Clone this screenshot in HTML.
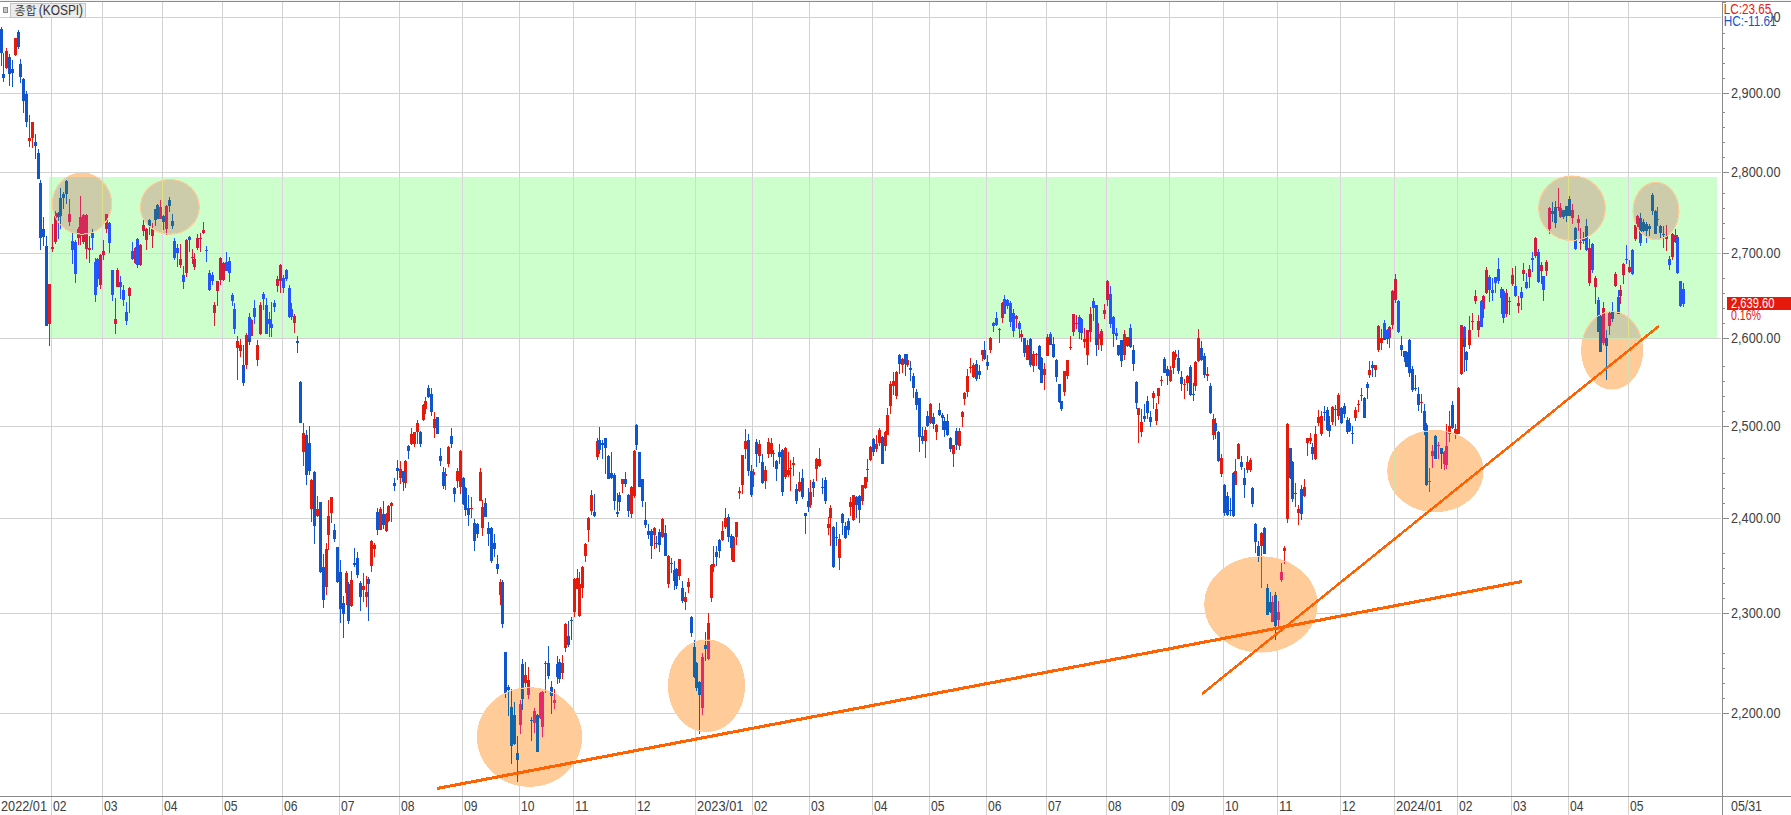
<!DOCTYPE html><html><head><meta charset="utf-8"><title>KOSPI</title><style>html,body{margin:0;padding:0;background:#fff}body{width:1791px;height:815px;overflow:hidden}svg{display:block}text{font-family:"Liberation Sans","NanumGothic","Noto Sans CJK KR",sans-serif}</style></head><body>
<svg width="1791" height="815" viewBox="0 0 1791 815">
<rect width="1791" height="815" fill="#fff"/>
<defs><clipPath id="cb"><rect x="49" y="177" width="1668" height="161"/></clipPath>
<clipPath id="c0"><ellipse cx="82.0" cy="203.7" rx="30.0" ry="31.0"/></clipPath>
<clipPath id="c1"><ellipse cx="169.9" cy="206.9" rx="29.8" ry="27.7"/></clipPath>
<clipPath id="c2"><ellipse cx="529.5" cy="737.0" rx="52.5" ry="49.7"/></clipPath>
<clipPath id="c3"><ellipse cx="706.5" cy="685.7" rx="38.5" ry="46.2"/></clipPath>
<clipPath id="c4"><ellipse cx="1260.9" cy="604.4" rx="56.5" ry="48.0"/></clipPath>
<clipPath id="c5"><ellipse cx="1435.4" cy="471.0" rx="48.0" ry="41.0"/></clipPath>
<clipPath id="c6"><ellipse cx="1572.0" cy="208.2" rx="33.7" ry="32.7"/></clipPath>
<clipPath id="c7"><ellipse cx="1656.0" cy="211.0" rx="23.3" ry="29.0"/></clipPath>
<clipPath id="c8"><ellipse cx="1612.1" cy="350.3" rx="30.9" ry="39.1"/></clipPath>
<clipPath id="plot"><rect x="0" y="2" width="1722" height="794"/></clipPath>
</defs>
<g shape-rendering="crispEdges">
<path d="M51 2h1V815h-1zM102 2h1V815h-1zM162 2h1V815h-1zM222 2h1V815h-1zM282 2h1V815h-1zM339 2h1V815h-1zM399 2h1V815h-1zM462 2h1V815h-1zM519 2h1V815h-1zM573 2h1V815h-1zM635 2h1V815h-1zM695 2h1V815h-1zM752 2h1V815h-1zM809 2h1V815h-1zM872 2h1V815h-1zM929 2h1V815h-1zM986 2h1V815h-1zM1046 2h1V815h-1zM1106 2h1V815h-1zM1169 2h1V815h-1zM1223 2h1V815h-1zM1277 2h1V815h-1zM1340 2h1V815h-1zM1394 2h1V815h-1zM1457 2h1V815h-1zM1511 2h1V815h-1zM1568 2h1V815h-1zM1628 2h1V815h-1zM0 17H1721v1H0zM0 93H1721v1H0zM0 172H1721v1H0zM0 253H1721v1H0zM0 338H1721v1H0zM0 426H1721v1H0zM0 518H1721v1H0zM0 613H1721v1H0zM0 713H1721v1H0z" fill="#d2d2d2"/>
<g clip-path="url(#plot)">
<path d="M6 48h1v21h-1zM5 51h3v17h-3zM15 38h1v18h-1zM14 38h3v17h-3zM29 115h1v32h-1zM28 138h3v3h-3zM32 122h1v26h-1zM31 122h3v16h-3zM49 284h1v62h-1zM48 284h3v40h-3zM52 224h1v28h-1zM51 247h3v2h-3zM55 211h1v33h-1zM54 213h3v29h-3zM69 199h1v27h-1zM68 214h3v8h-3zM78 227h1v18h-1zM77 229h3v9h-3zM80 196h1v49h-1zM79 217h3v19h-3zM83 214h1v30h-1zM82 215h3v27h-3zM86 214h1v45h-1zM85 215h3v34h-3zM89 236h1v27h-1zM88 248h3v2h-3zM100 254h1v35h-1zM99 255h3v30h-3zM103 240h1v20h-1zM102 251h3v4h-3zM106 214h1v19h-1zM105 214h3v15h-3zM115 298h1v36h-1zM114 319h3v5h-3zM117 268h1v19h-1zM116 270h3v17h-3zM129 287h1v26h-1zM128 288h3v8h-3zM135 247h1v17h-1zM134 248h3v15h-3zM140 244h1v22h-1zM139 245h3v20h-3zM143 220h1v16h-1zM142 225h3v6h-3zM146 228h1v22h-1zM145 229h3v11h-3zM152 223h1v25h-1zM151 229h3v7h-3zM160 200h1v19h-1zM159 207h3v12h-3zM166 205h1v30h-1zM165 206h3v23h-3zM180 244h1v24h-1zM179 259h3v6h-3zM186 239h1v38h-1zM185 240h3v33h-3zM192 249h1v15h-1zM191 257h3v1h-3zM194 253h1v17h-1zM193 259h3v8h-3zM197 234h1v16h-1zM196 238h3v10h-3zM200 233h1v19h-1zM199 238h3v1h-3zM203 222h1v12h-1zM202 230h3v3h-3zM214 302h1v24h-1zM213 305h3v8h-3zM217 281h1v25h-1zM216 281h3v10h-3zM220 257h1v28h-1zM219 258h3v22h-3zM223 262h1v19h-1zM222 263h3v17h-3zM237 336h1v44h-1zM236 341h3v7h-3zM240 339h1v18h-1zM239 345h3v6h-3zM246 333h1v36h-1zM245 335h3v30h-3zM251 319h1v17h-1zM250 320h3v16h-3zM257 340h1v26h-1zM256 345h3v15h-3zM260 302h1v33h-1zM259 305h3v29h-3zM277 276h1v16h-1zM276 279h3v7h-3zM280 264h1v29h-1zM279 265h3v16h-3zM294 314h1v19h-1zM293 316h3v7h-3zM303 423h1v43h-1zM302 433h3v19h-3zM311 479h1v43h-1zM310 480h3v29h-3zM317 496h1v21h-1zM316 509h3v7h-3zM326 543h1v52h-1zM325 549h3v38h-3zM328 500h1v50h-1zM327 516h3v19h-3zM331 497h1v26h-1zM330 497h3v16h-3zM346 571h1v34h-1zM345 573h3v20h-3zM351 571h1v36h-1zM350 580h3v26h-3zM363 573h1v29h-1zM362 586h3v4h-3zM366 576h1v31h-1zM365 592h3v5h-3zM371 540h1v32h-1zM370 541h3v25h-3zM374 543h1v14h-1zM373 545h3v4h-3zM380 507h1v23h-1zM379 509h3v21h-3zM386 513h1v19h-1zM385 514h3v17h-3zM388 505h1v17h-1zM387 506h3v15h-3zM391 502h1v20h-1zM390 503h3v3h-3zM400 461h1v23h-1zM399 469h3v9h-3zM405 460h1v28h-1zM404 461h3v22h-3zM411 428h1v17h-1zM410 434h3v10h-3zM414 432h1v15h-1zM413 432h3v12h-3zM417 420h1v24h-1zM416 423h3v9h-3zM423 404h1v17h-1zM422 405h3v15h-3zM425 397h1v17h-1zM424 401h3v8h-3zM434 412h1v26h-1zM433 419h3v9h-3zM445 468h1v22h-1zM444 474h3v2h-3zM448 446h1v21h-1zM447 447h3v17h-3zM457 468h1v20h-1zM456 471h3v10h-3zM460 450h1v44h-1zM459 451h3v36h-3zM471 497h1v21h-1zM470 508h3v1h-3zM480 468h1v33h-1zM479 472h3v29h-3zM482 500h1v36h-1zM481 507h3v21h-3zM500 579h1v26h-1zM499 582h3v13h-3zM520 700h1v34h-1zM519 704h3v21h-3zM525 662h1v25h-1zM524 675h3v8h-3zM528 667h1v32h-1zM527 680h3v15h-3zM534 708h1v25h-1zM533 711h3v12h-3zM540 692h1v27h-1zM539 693h3v25h-3zM542 691h1v46h-1zM541 692h3v35h-3zM545 661h1v32h-1zM544 663h3v1h-3zM554 689h1v20h-1zM553 700h3v3h-3zM562 655h1v24h-1zM561 663h3v10h-3zM565 623h1v29h-1zM564 624h3v24h-3zM574 578h1v39h-1zM573 579h3v33h-3zM577 569h1v20h-1zM576 578h3v11h-3zM579 572h1v45h-1zM578 584h3v32h-3zM582 566h1v32h-1zM581 567h3v21h-3zM585 543h1v19h-1zM584 544h3v12h-3zM588 517h1v25h-1zM587 518h3v12h-3zM591 490h1v25h-1zM590 495h3v16h-3zM597 438h1v22h-1zM596 441h3v16h-3zM622 479h1v14h-1zM621 479h3v5h-3zM631 486h1v32h-1zM630 487h3v27h-3zM634 450h1v48h-1zM633 451h3v45h-3zM654 527h1v22h-1zM653 528h3v7h-3zM662 518h1v20h-1zM661 519h3v18h-3zM668 555h1v33h-1zM667 556h3v28h-3zM671 558h1v15h-1zM670 563h3v1h-3zM679 559h1v21h-1zM678 559h3v17h-3zM685 592h1v18h-1zM684 597h3v5h-3zM688 578h1v15h-1zM687 582h3v5h-3zM702 653h1v62h-1zM701 657h3v51h-3zM708 613h1v47h-1zM707 623h3v36h-3zM711 564h1v38h-1zM710 565h3v33h-3zM713 546h1v26h-1zM712 564h3v3h-3zM722 521h1v20h-1zM721 531h3v9h-3zM725 508h1v21h-1zM724 518h3v9h-3zM733 536h1v26h-1zM732 537h3v25h-3zM736 522h1v23h-1zM735 522h3v15h-3zM739 487h1v12h-1zM738 491h3v2h-3zM742 455h1v39h-1zM741 455h3v30h-3zM745 429h1v30h-1zM744 441h3v8h-3zM753 469h1v18h-1zM752 472h3v3h-3zM759 440h1v23h-1zM758 444h3v12h-3zM765 466h1v23h-1zM764 470h3v11h-3zM768 438h1v20h-1zM767 442h3v12h-3zM771 438h1v19h-1zM770 443h3v11h-3zM785 447h1v32h-1zM784 448h3v29h-3zM788 452h1v25h-1zM787 470h3v5h-3zM790 460h1v31h-1zM789 468h3v1h-3zM793 457h1v19h-1zM792 463h3v2h-3zM799 472h1v20h-1zM798 482h3v9h-3zM810 480h1v28h-1zM809 492h3v13h-3zM816 458h1v23h-1zM815 459h3v10h-3zM819 448h1v19h-1zM818 459h3v7h-3zM828 517h1v18h-1zM827 524h3v4h-3zM830 505h1v41h-1zM829 508h3v10h-3zM839 534h1v36h-1zM838 539h3v19h-3zM850 497h1v19h-1zM849 502h3v5h-3zM853 495h1v26h-1zM852 495h3v25h-3zM862 485h1v20h-1zM861 485h3v16h-3zM865 477h1v12h-1zM864 477h3v11h-3zM867 459h1v23h-1zM866 469h3v1h-3zM870 446h1v15h-1zM869 447h3v13h-3zM876 435h1v17h-1zM875 444h3v5h-3zM879 428h1v18h-1zM878 430h3v13h-3zM885 431h1v20h-1zM884 432h3v14h-3zM887 408h1v27h-1zM886 415h3v20h-3zM890 381h1v33h-1zM889 384h3v22h-3zM893 372h1v23h-1zM892 381h3v5h-3zM896 371h1v28h-1zM895 372h3v24h-3zM902 358h1v15h-1zM901 359h3v6h-3zM907 354h1v13h-1zM906 360h3v5h-3zM925 427h1v31h-1zM924 430h3v11h-3zM930 403h1v21h-1zM929 404h3v19h-3zM936 424h1v16h-1zM935 425h3v7h-3zM953 445h1v22h-1zM952 445h3v9h-3zM959 428h1v22h-1zM958 431h3v15h-3zM962 411h1v16h-1zM961 412h3v5h-3zM964 392h1v13h-1zM963 393h3v6h-3zM967 369h1v28h-1zM966 376h3v16h-3zM970 358h1v15h-1zM969 367h3v1h-3zM973 363h1v15h-1zM972 365h3v12h-3zM982 350h1v11h-1zM981 350h3v5h-3zM990 337h1v16h-1zM989 338h3v12h-3zM999 328h1v15h-1zM998 329h3v1h-3zM1002 302h1v21h-1zM1001 303h3v15h-3zM1016 315h1v13h-1zM1015 316h3v3h-3zM1021 330h1v12h-1zM1020 334h3v3h-3zM1027 340h1v20h-1zM1026 345h3v15h-3zM1033 351h1v21h-1zM1032 354h3v12h-3zM1036 353h1v13h-1zM1035 354h3v1h-3zM1044 363h1v27h-1zM1043 369h3v6h-3zM1047 334h1v22h-1zM1046 337h3v19h-3zM1064 371h1v25h-1zM1063 371h3v21h-3zM1067 360h1v19h-1zM1066 360h3v16h-3zM1070 336h1v14h-1zM1069 347h3v1h-3zM1073 314h1v22h-1zM1072 314h3v18h-3zM1076 315h1v14h-1zM1075 323h3v1h-3zM1084 328h1v20h-1zM1083 339h3v3h-3zM1087 330h1v35h-1zM1086 330h3v25h-3zM1090 307h1v35h-1zM1089 314h3v18h-3zM1098 323h1v27h-1zM1097 334h3v5h-3zM1101 329h1v22h-1zM1100 331h3v14h-3zM1104 304h1v15h-1zM1103 310h3v4h-3zM1107 280h1v26h-1zM1106 281h3v19h-3zM1124 330h1v30h-1zM1123 334h3v21h-3zM1127 337h1v10h-1zM1126 337h3v9h-3zM1138 408h1v35h-1zM1137 408h3v7h-3zM1141 409h1v28h-1zM1140 422h3v10h-3zM1153 391h1v18h-1zM1152 393h3v5h-3zM1156 403h1v22h-1zM1155 409h3v12h-3zM1158 388h1v16h-1zM1157 388h3v8h-3zM1161 376h1v10h-1zM1160 380h3v1h-3zM1170 366h1v16h-1zM1169 370h3v11h-3zM1173 351h1v23h-1zM1172 352h3v16h-3zM1175 350h1v10h-1zM1174 354h3v3h-3zM1184 379h1v20h-1zM1183 384h3v1h-3zM1187 375h1v16h-1zM1186 376h3v7h-3zM1195 361h1v30h-1zM1194 362h3v24h-3zM1198 329h1v33h-1zM1197 338h3v23h-3zM1207 367h1v14h-1zM1206 374h3v2h-3zM1213 414h1v26h-1zM1212 419h3v16h-3zM1221 454h1v23h-1zM1220 458h3v16h-3zM1235 459h1v26h-1zM1234 471h3v14h-3zM1238 443h1v16h-1zM1237 444h3v15h-3zM1247 456h1v17h-1zM1246 462h3v8h-3zM1250 458h1v14h-1zM1249 460h3v10h-3zM1261 532h1v56h-1zM1260 533h3v13h-3zM1272 596h1v26h-1zM1271 602h3v20h-3zM1278 601h1v25h-1zM1277 612h3v8h-3zM1281 563h1v19h-1zM1280 572h3v8h-3zM1284 546h1v18h-1zM1283 548h3v3h-3zM1287 423h1v100h-1zM1286 424h3v95h-3zM1295 483h1v24h-1zM1294 493h3v1h-3zM1298 505h1v20h-1zM1297 509h3v4h-3zM1304 479h1v18h-1zM1303 487h3v9h-3zM1307 438h1v18h-1zM1306 438h3v5h-3zM1310 433h1v11h-1zM1309 438h3v3h-3zM1315 426h1v34h-1zM1314 434h3v25h-3zM1318 410h1v16h-1zM1317 417h3v6h-3zM1321 411h1v25h-1zM1320 416h3v18h-3zM1332 406h1v19h-1zM1331 407h3v15h-3zM1335 405h1v21h-1zM1334 409h3v1h-3zM1338 393h1v27h-1zM1337 395h3v21h-3zM1355 407h1v14h-1zM1354 410h3v8h-3zM1358 400h1v12h-1zM1357 404h3v1h-3zM1361 388h1v13h-1zM1360 395h3v1h-3zM1369 361h1v17h-1zM1368 370h3v5h-3zM1375 365h1v12h-1zM1374 365h3v5h-3zM1378 325h1v27h-1zM1377 326h3v24h-3zM1381 329h1v21h-1zM1380 338h3v5h-3zM1389 326h1v22h-1zM1388 327h3v11h-3zM1392 290h1v39h-1zM1391 291h3v34h-3zM1395 274h1v29h-1zM1394 279h3v21h-3zM1421 394h1v19h-1zM1420 402h3v1h-3zM1429 468h1v24h-1zM1428 481h3v1h-3zM1432 445h1v23h-1zM1431 451h3v5h-3zM1438 442h1v17h-1zM1437 445h3v1h-3zM1444 451h1v19h-1zM1443 452h3v12h-3zM1446 424h1v45h-1zM1445 446h3v19h-3zM1449 411h1v31h-1zM1448 426h3v8h-3zM1455 424h1v15h-1zM1454 429h3v5h-3zM1458 387h1v47h-1zM1457 388h3v46h-3zM1461 325h1v50h-1zM1460 325h3v49h-3zM1469 316h1v33h-1zM1468 330h3v15h-3zM1472 313h1v17h-1zM1471 321h3v1h-3zM1475 290h1v14h-1zM1474 296h3v5h-3zM1478 315h1v22h-1zM1477 321h3v9h-3zM1483 295h1v23h-1zM1482 296h3v13h-3zM1486 267h1v27h-1zM1485 270h3v23h-3zM1506 289h1v28h-1zM1505 293h3v21h-3zM1512 268h1v18h-1zM1511 275h3v9h-3zM1518 296h1v17h-1zM1517 303h3v3h-3zM1523 263h1v18h-1zM1522 270h3v4h-3zM1529 265h1v23h-1zM1528 269h3v8h-3zM1535 237h1v21h-1zM1534 238h3v18h-3zM1541 262h1v22h-1zM1540 265h3v6h-3zM1546 260h1v16h-1zM1545 262h3v9h-3zM1549 207h1v27h-1zM1548 208h3v21h-3zM1558 188h1v23h-1zM1557 207h3v1h-3zM1560 203h1v15h-1zM1559 208h3v9h-3zM1572 204h1v20h-1zM1571 210h3v8h-3zM1578 215h1v16h-1zM1577 219h3v4h-3zM1580 228h1v22h-1zM1579 242h3v1h-3zM1589 239h1v47h-1zM1588 248h3v35h-3zM1595 276h1v28h-1zM1594 278h3v9h-3zM1603 302h1v43h-1zM1602 308h3v35h-3zM1609 312h1v23h-1zM1608 313h3v13h-3zM1615 272h1v15h-1zM1614 274h3v12h-3zM1620 285h1v19h-1zM1619 290h3v6h-3zM1623 263h1v21h-1zM1622 264h3v11h-3zM1629 260h1v13h-1zM1628 267h3v5h-3zM1635 225h1v16h-1zM1634 225h3v14h-3zM1637 215h1v13h-1zM1636 216h3v11h-3zM1657 207h1v19h-1zM1656 219h3v1h-3zM1666 225h1v26h-1zM1665 236h3v3h-3zM1672 233h1v27h-1zM1671 234h3v23h-3zM1675 229h1v14h-1zM1674 235h3v7h-3z" fill="#e61a0c"/><path d="M1 27h1v39h-1zM0 29h3v24h-3zM3 53h1v29h-1zM2 74h3v4h-3zM9 54h1v32h-1zM8 57h3v17h-3zM12 60h1v27h-1zM11 69h3v4h-3zM18 30h1v19h-1zM17 32h3v15h-3zM20 59h1v24h-1zM19 64h3v13h-3zM23 78h1v35h-1zM22 79h3v22h-3zM26 91h1v36h-1zM25 94h3v28h-3zM35 134h1v25h-1zM34 142h3v4h-3zM38 149h1v30h-1zM37 153h3v26h-3zM40 180h1v70h-1zM39 183h3v55h-3zM43 217h1v29h-1zM42 229h3v8h-3zM46 236h1v90h-1zM45 246h3v80h-3zM58 212h1v27h-1zM57 213h3v4h-3zM60 188h1v41h-1zM59 198h3v18h-3zM63 192h1v17h-1zM62 194h3v4h-3zM66 180h1v24h-1zM65 181h3v13h-3zM72 233h1v31h-1zM71 241h3v9h-3zM75 240h1v43h-1zM74 242h3v32h-3zM92 229h1v21h-1zM91 233h3v5h-3zM95 258h1v44h-1zM94 262h3v33h-3zM97 258h1v29h-1zM96 259h3v20h-3zM109 222h1v31h-1zM108 223h3v20h-3zM112 270h1v31h-1zM111 270h3v25h-3zM120 276h1v23h-1zM119 282h3v5h-3zM123 285h1v21h-1zM122 290h3v10h-3zM126 302h1v23h-1zM125 312h3v9h-3zM132 242h1v18h-1zM131 251h3v8h-3zM137 238h1v30h-1zM136 239h3v26h-3zM149 219h1v16h-1zM148 220h3v6h-3zM155 209h1v17h-1zM154 209h3v11h-3zM157 204h1v15h-1zM156 205h3v14h-3zM163 215h1v15h-1zM162 216h3v6h-3zM169 197h1v15h-1zM168 200h3v6h-3zM172 214h1v15h-1zM171 221h3v5h-3zM174 238h1v22h-1zM173 241h3v17h-3zM177 244h1v23h-1zM176 248h3v5h-3zM183 266h1v23h-1zM182 275h3v7h-3zM189 236h1v16h-1zM188 237h3v3h-3zM206 246h1v16h-1zM205 250h3v1h-3zM209 270h1v21h-1zM208 273h3v17h-3zM212 272h1v13h-1zM211 275h3v6h-3zM226 252h1v19h-1zM225 262h3v9h-3zM229 257h1v25h-1zM228 261h3v12h-3zM232 293h1v13h-1zM231 295h3v6h-3zM234 303h1v31h-1zM233 309h3v20h-3zM243 345h1v41h-1zM242 365h3v18h-3zM249 313h1v32h-1zM248 317h3v25h-3zM254 300h1v24h-1zM253 308h3v9h-3zM263 292h1v18h-1zM262 294h3v5h-3zM266 298h1v36h-1zM265 305h3v29h-3zM269 312h1v25h-1zM268 319h3v5h-3zM271 302h1v35h-1zM270 324h3v4h-3zM274 300h1v12h-1zM273 303h3v4h-3zM283 275h1v18h-1zM282 278h3v10h-3zM286 269h1v12h-1zM285 270h3v9h-3zM289 285h1v33h-1zM288 288h3v29h-3zM291 303h1v17h-1zM290 309h3v8h-3zM297 336h1v17h-1zM296 341h3v2h-3zM300 381h1v42h-1zM299 382h3v41h-3zM306 430h1v55h-1zM305 435h3v40h-3zM309 426h1v49h-1zM308 443h3v28h-3zM314 471h1v73h-1zM313 472h3v54h-3zM320 502h1v71h-1zM319 502h3v70h-3zM323 554h1v54h-1zM322 567h3v33h-3zM334 524h1v18h-1zM333 530h3v9h-3zM337 547h1v36h-1zM336 547h3v35h-3zM340 560h1v63h-1zM339 572h3v37h-3zM343 596h1v42h-1zM342 603h3v11h-3zM348 582h1v42h-1zM347 584h3v37h-3zM354 548h1v19h-1zM353 563h3v2h-3zM357 552h1v26h-1zM356 558h3v17h-3zM360 581h1v30h-1zM359 583h3v14h-3zM368 577h1v44h-1zM367 579h3v5h-3zM377 508h1v27h-1zM376 512h3v18h-3zM383 501h1v28h-1zM382 514h3v11h-3zM394 478h1v13h-1zM393 483h3v3h-3zM397 460h1v20h-1zM396 468h3v3h-3zM403 471h1v20h-1zM402 471h3v11h-3zM408 445h1v14h-1zM407 446h3v5h-3zM420 431h1v16h-1zM419 432h3v12h-3zM428 385h1v13h-1zM427 388h3v9h-3zM431 388h1v28h-1zM430 394h3v18h-3zM436 417h3v17h-3zM440 448h1v18h-1zM439 456h3v5h-3zM443 467h1v22h-1zM442 472h3v14h-3zM451 428h1v20h-1zM450 436h3v8h-3zM454 487h1v15h-1zM453 488h3v6h-3zM463 477h1v28h-1zM462 478h3v26h-3zM465 487h1v29h-1zM464 488h3v22h-3zM468 495h1v31h-1zM467 508h3v7h-3zM474 519h1v32h-1zM473 523h3v18h-3zM477 523h1v15h-1zM476 524h3v10h-3zM485 498h1v19h-1zM484 503h3v14h-3zM488 522h1v24h-1zM487 528h3v6h-3zM491 527h1v36h-1zM490 528h3v33h-3zM494 534h1v23h-1zM493 543h3v6h-3zM497 555h1v19h-1zM496 564h3v5h-3zM502 580h1v48h-1zM501 582h3v42h-3zM505 652h1v46h-1zM504 652h3v41h-3zM508 685h1v31h-1zM507 687h3v3h-3zM511 689h1v75h-1zM510 707h3v39h-3zM514 702h1v43h-1zM513 715h3v29h-3zM517 736h1v46h-1zM516 753h3v7h-3zM522 659h1v51h-1zM521 664h3v35h-3zM531 717h1v24h-1zM530 720h3v1h-3zM537 714h1v38h-1zM536 715h3v37h-3zM548 646h1v33h-1zM547 663h3v13h-3zM551 681h1v33h-1zM550 687h3v9h-3zM557 656h1v28h-1zM556 664h3v13h-3zM559 659h1v24h-1zM558 662h3v17h-3zM568 621h1v26h-1zM567 636h3v9h-3zM571 617h1v23h-1zM570 620h3v1h-3zM594 494h1v23h-1zM593 512h3v4h-3zM599 427h1v27h-1zM598 440h3v10h-3zM602 440h1v19h-1zM601 443h3v2h-3zM605 438h1v36h-1zM604 438h3v10h-3zM608 455h1v24h-1zM607 456h3v23h-3zM611 452h1v27h-1zM610 473h3v5h-3zM614 473h1v37h-1zM613 475h3v26h-3zM617 493h1v24h-1zM616 512h3v2h-3zM619 492h1v19h-1zM618 495h3v7h-3zM625 472h1v15h-1zM624 479h3v5h-3zM628 494h1v23h-1zM627 495h3v16h-3zM636 424h1v26h-1zM635 425h3v20h-3zM638 452h3v35h-3zM642 479h1v28h-1zM641 479h3v22h-3zM645 502h1v26h-1zM644 520h3v5h-3zM648 524h1v15h-1zM647 531h3v4h-3zM651 529h1v30h-1zM650 531h3v15h-3zM656 536h1v12h-1zM655 543h3v1h-3zM659 529h1v23h-1zM658 532h3v13h-3zM665 525h1v31h-1zM664 533h3v23h-3zM674 561h1v29h-1zM673 570h3v11h-3zM676 568h1v21h-1zM675 569h3v17h-3zM682 581h1v22h-1zM681 588h3v13h-3zM691 616h1v21h-1zM690 617h3v16h-3zM694 640h1v38h-1zM693 647h3v30h-3zM696 662h1v29h-1zM695 663h3v25h-3zM699 681h1v53h-1zM698 682h3v13h-3zM705 632h1v29h-1zM704 645h3v4h-3zM716 546h1v20h-1zM715 552h3v5h-3zM719 539h1v19h-1zM718 540h3v11h-3zM728 514h1v28h-1zM727 517h3v20h-3zM731 534h1v26h-1zM730 536h3v12h-3zM748 434h1v42h-1zM747 440h3v31h-3zM751 465h1v32h-1zM750 471h3v24h-3zM756 439h1v28h-1zM755 442h3v12h-3zM762 454h1v30h-1zM761 462h3v21h-3zM773 450h1v17h-1zM772 453h3v1h-3zM776 460h1v21h-1zM775 461h3v8h-3zM779 444h1v20h-1zM778 452h3v5h-3zM782 449h1v47h-1zM781 450h3v42h-3zM796 484h1v20h-1zM795 489h3v12h-3zM802 469h1v30h-1zM801 478h3v19h-3zM805 513h1v21h-1zM804 513h3v3h-3zM808 488h1v24h-1zM807 501h3v6h-3zM813 479h1v18h-1zM812 482h3v6h-3zM822 478h1v16h-1zM821 487h3v1h-3zM825 477h1v27h-1zM824 480h3v21h-3zM833 526h1v42h-1zM832 527h3v40h-3zM836 522h1v24h-1zM835 537h3v1h-3zM842 513h1v22h-1zM841 514h3v9h-3zM845 522h1v17h-1zM844 526h3v12h-3zM848 518h1v17h-1zM847 521h3v9h-3zM856 496h1v22h-1zM855 497h3v8h-3zM859 495h1v28h-1zM858 496h3v14h-3zM873 438h1v18h-1zM872 439h3v13h-3zM882 436h1v28h-1zM881 437h3v27h-3zM899 354h1v20h-1zM898 355h3v9h-3zM905 354h1v22h-1zM904 354h3v10h-3zM910 361h1v20h-1zM909 368h3v2h-3zM913 373h1v25h-1zM912 376h3v12h-3zM916 389h1v21h-1zM915 392h3v13h-3zM919 398h1v54h-1zM918 398h3v39h-3zM922 427h1v17h-1zM921 436h3v5h-3zM927 411h1v16h-1zM926 416h3v10h-3zM933 413h1v16h-1zM932 417h3v7h-3zM939 403h1v13h-1zM938 410h3v5h-3zM942 413h1v17h-1zM941 415h3v3h-3zM944 417h1v20h-1zM943 421h3v9h-3zM947 414h1v22h-1zM946 421h3v14h-3zM950 437h1v15h-1zM949 438h3v11h-3zM956 428h1v22h-1zM955 431h3v14h-3zM976 360h1v21h-1zM975 364h3v15h-3zM979 365h1v14h-1zM978 371h3v4h-3zM984 341h1v19h-1zM983 350h3v9h-3zM987 355h1v15h-1zM986 362h3v4h-3zM993 322h1v10h-1zM992 323h3v3h-3zM996 312h1v14h-1zM995 318h3v7h-3zM1004 295h1v19h-1zM1003 299h3v15h-3zM1007 299h1v10h-1zM1006 300h3v6h-3zM1010 301h1v26h-1zM1009 303h3v19h-3zM1013 309h1v28h-1zM1012 313h3v18h-3zM1019 321h1v17h-1zM1018 323h3v6h-3zM1024 338h1v19h-1zM1023 338h3v15h-3zM1030 338h1v29h-1zM1029 339h3v26h-3zM1039 345h1v25h-1zM1038 346h3v23h-3zM1041 357h1v26h-1zM1040 358h3v25h-3zM1050 332h1v13h-1zM1049 334h3v11h-3zM1053 337h1v21h-1zM1052 344h3v13h-3zM1056 359h1v23h-1zM1055 360h3v17h-3zM1059 384h1v19h-1zM1058 384h3v18h-3zM1061 401h1v10h-1zM1060 401h3v8h-3zM1079 315h1v24h-1zM1078 317h3v15h-3zM1081 318h1v22h-1zM1080 319h3v14h-3zM1093 298h1v23h-1zM1092 301h3v7h-3zM1096 305h1v51h-1zM1095 305h3v40h-3zM1110 286h1v42h-1zM1109 294h3v30h-3zM1113 316h1v31h-1zM1112 317h3v17h-3zM1116 328h1v12h-1zM1115 333h3v3h-3zM1118 345h1v11h-1zM1117 345h3v10h-3zM1121 340h1v27h-1zM1120 340h3v21h-3zM1130 324h1v24h-1zM1129 328h3v19h-3zM1133 345h1v26h-1zM1132 350h3v14h-3zM1136 381h1v28h-1zM1135 382h3v21h-3zM1144 404h1v18h-1zM1143 416h3v3h-3zM1147 396h1v23h-1zM1146 401h3v12h-3zM1150 411h1v16h-1zM1149 417h3v5h-3zM1164 357h1v16h-1zM1163 359h3v14h-3zM1167 366h1v19h-1zM1166 369h3v7h-3zM1178 350h1v24h-1zM1177 358h3v13h-3zM1181 371h1v20h-1zM1180 377h3v7h-3zM1190 365h1v31h-1zM1189 367h3v28h-3zM1193 383h1v18h-1zM1192 394h3v1h-3zM1201 341h1v20h-1zM1200 348h3v12h-3zM1204 353h1v25h-1zM1203 356h3v19h-3zM1210 383h1v31h-1zM1209 386h3v27h-3zM1215 418h1v21h-1zM1214 423h3v8h-3zM1218 431h1v31h-1zM1217 432h3v29h-3zM1224 484h1v32h-1zM1223 485h3v28h-3zM1227 492h1v24h-1zM1226 496h3v19h-3zM1230 498h1v18h-1zM1229 510h3v1h-3zM1233 472h1v45h-1zM1232 473h3v43h-3zM1241 456h1v14h-1zM1240 462h3v5h-3zM1244 468h1v30h-1zM1243 478h3v7h-3zM1252 487h1v20h-1zM1251 488h3v16h-3zM1255 523h1v30h-1zM1254 524h3v18h-3zM1258 541h1v21h-1zM1257 546h3v10h-3zM1264 527h1v27h-1zM1263 528h3v26h-3zM1267 584h1v31h-1zM1266 588h3v27h-3zM1270 592h1v21h-1zM1269 602h3v10h-3zM1275 592h1v48h-1zM1274 595h3v31h-3zM1290 448h1v31h-1zM1289 448h3v30h-3zM1292 461h1v41h-1zM1291 462h3v37h-3zM1301 485h1v35h-1zM1300 489h3v25h-3zM1312 443h1v17h-1zM1311 447h3v7h-3zM1324 406h1v15h-1zM1323 412h3v1h-3zM1327 407h1v24h-1zM1326 410h3v20h-3zM1329 416h1v21h-1zM1328 425h3v6h-3zM1341 407h1v17h-1zM1340 408h3v15h-3zM1344 403h1v15h-1zM1343 406h3v8h-3zM1347 417h1v17h-1zM1346 420h3v12h-3zM1349 418h1v14h-1zM1348 423h3v8h-3zM1352 426h1v18h-1zM1351 433h3v1h-3zM1364 397h1v21h-1zM1363 398h3v20h-3zM1367 382h1v17h-1zM1366 384h3v4h-3zM1372 361h1v16h-1zM1371 365h3v3h-3zM1384 320h1v20h-1zM1383 323h3v17h-3zM1387 329h1v15h-1zM1386 330h3v9h-3zM1398 300h1v33h-1zM1397 301h3v31h-3zM1401 336h1v20h-1zM1400 345h3v5h-3zM1404 351h1v11h-1zM1403 351h3v6h-3zM1406 351h1v16h-1zM1405 352h3v15h-3zM1409 339h1v38h-1zM1408 340h3v33h-3zM1412 366h1v26h-1zM1411 369h3v21h-3zM1415 375h1v16h-1zM1414 388h3v1h-3zM1418 387h1v24h-1zM1417 394h3v11h-3zM1424 404h1v31h-1zM1423 411h3v19h-3zM1426 423h1v63h-1zM1425 425h3v60h-3zM1435 435h1v24h-1zM1434 436h3v23h-3zM1441 448h1v21h-1zM1440 448h3v6h-3zM1452 401h1v28h-1zM1451 405h3v23h-3zM1464 326h1v46h-1zM1463 327h3v20h-3zM1466 351h1v20h-1zM1465 352h3v8h-3zM1481 300h1v27h-1zM1480 301h3v26h-3zM1489 275h1v27h-1zM1488 277h3v13h-3zM1492 278h1v23h-1zM1491 290h3v3h-3zM1495 277h1v16h-1zM1494 277h3v6h-3zM1498 258h1v26h-1zM1497 269h3v12h-3zM1501 287h1v27h-1zM1500 289h3v9h-3zM1503 289h1v34h-1zM1502 291h3v27h-3zM1509 297h1v18h-1zM1508 301h3v1h-3zM1515 266h1v31h-1zM1514 286h3v10h-3zM1521 287h1v23h-1zM1520 292h3v6h-3zM1526 273h1v16h-1zM1525 282h3v6h-3zM1532 252h1v20h-1zM1531 258h3v2h-3zM1538 249h1v34h-1zM1537 252h3v30h-3zM1543 276h1v25h-1zM1542 276h3v14h-3zM1552 202h1v20h-1zM1551 211h3v3h-3zM1555 201h1v27h-1zM1554 207h3v16h-3zM1563 210h1v9h-1zM1562 210h3v7h-3zM1566 206h1v16h-1zM1565 206h3v10h-3zM1569 196h1v20h-1zM1568 199h3v17h-3zM1575 227h1v23h-1zM1574 228h3v21h-3zM1583 232h1v12h-1zM1582 238h3v3h-3zM1586 219h1v32h-1zM1585 226h3v24h-3zM1592 243h1v30h-1zM1591 244h3v26h-3zM1598 297h1v35h-1zM1597 300h3v32h-3zM1600 315h1v37h-1zM1599 316h3v36h-3zM1606 330h1v50h-1zM1605 338h3v8h-3zM1612 302h1v20h-1zM1611 312h3v7h-3zM1618 290h1v24h-1zM1617 297h3v17h-3zM1626 245h1v19h-1zM1625 259h3v1h-3zM1632 249h1v26h-1zM1631 250h3v24h-3zM1640 213h1v33h-1zM1639 218h3v25h-3zM1643 219h1v13h-1zM1642 222h3v9h-3zM1646 222h1v21h-1zM1645 224h3v7h-3zM1649 224h1v12h-1zM1648 226h3v3h-3zM1652 193h1v22h-1zM1651 195h3v16h-3zM1655 210h1v24h-1zM1654 211h3v23h-3zM1660 225h1v13h-1zM1659 226h3v7h-3zM1663 226h1v22h-1zM1662 234h3v1h-3zM1669 256h1v14h-1zM1668 259h3v6h-3zM1677 235h1v39h-1zM1676 237h3v36h-3zM1680 281h1v26h-1zM1679 281h3v25h-3zM1683 283h1v24h-1zM1682 289h3v15h-3z" fill="#1055cd"/>
<g clip-path="url(#cb)"><rect x="49" y="177" width="1668" height="161" fill="#ccffcc"/>
<path d="M51 2h1V815h-1zM102 2h1V815h-1zM162 2h1V815h-1zM222 2h1V815h-1zM282 2h1V815h-1zM339 2h1V815h-1zM399 2h1V815h-1zM462 2h1V815h-1zM519 2h1V815h-1zM573 2h1V815h-1zM635 2h1V815h-1zM695 2h1V815h-1zM752 2h1V815h-1zM809 2h1V815h-1zM872 2h1V815h-1zM929 2h1V815h-1zM986 2h1V815h-1zM1046 2h1V815h-1zM1106 2h1V815h-1zM1169 2h1V815h-1zM1223 2h1V815h-1zM1277 2h1V815h-1zM1340 2h1V815h-1zM1394 2h1V815h-1zM1457 2h1V815h-1zM1511 2h1V815h-1zM1568 2h1V815h-1zM1628 2h1V815h-1zM0 17H1721v1H0zM0 93H1721v1H0zM0 172H1721v1H0zM0 253H1721v1H0zM0 338H1721v1H0zM0 426H1721v1H0zM0 518H1721v1H0zM0 613H1721v1H0zM0 713H1721v1H0z" fill="#e1d2e1"/>
<path d="M49 284h1v62h-1zM48 284h3v40h-3zM52 224h1v28h-1zM51 247h3v2h-3zM55 211h1v33h-1zM54 213h3v29h-3zM69 199h1v27h-1zM68 214h3v8h-3zM78 227h1v18h-1zM77 229h3v9h-3zM80 196h1v49h-1zM79 217h3v19h-3zM83 214h1v30h-1zM82 215h3v27h-3zM86 214h1v45h-1zM85 215h3v34h-3zM89 236h1v27h-1zM88 248h3v2h-3zM100 254h1v35h-1zM99 255h3v30h-3zM103 240h1v20h-1zM102 251h3v4h-3zM106 214h1v19h-1zM105 214h3v15h-3zM115 298h1v36h-1zM114 319h3v5h-3zM117 268h1v19h-1zM116 270h3v17h-3zM129 287h1v26h-1zM128 288h3v8h-3zM135 247h1v17h-1zM134 248h3v15h-3zM140 244h1v22h-1zM139 245h3v20h-3zM143 220h1v16h-1zM142 225h3v6h-3zM146 228h1v22h-1zM145 229h3v11h-3zM152 223h1v25h-1zM151 229h3v7h-3zM160 200h1v19h-1zM159 207h3v12h-3zM166 205h1v30h-1zM165 206h3v23h-3zM180 244h1v24h-1zM179 259h3v6h-3zM186 239h1v38h-1zM185 240h3v33h-3zM192 249h1v15h-1zM191 257h3v1h-3zM194 253h1v17h-1zM193 259h3v8h-3zM197 234h1v16h-1zM196 238h3v10h-3zM200 233h1v19h-1zM199 238h3v1h-3zM203 222h1v12h-1zM202 230h3v3h-3zM214 302h1v24h-1zM213 305h3v8h-3zM217 281h1v25h-1zM216 281h3v10h-3zM220 257h1v28h-1zM219 258h3v22h-3zM223 262h1v19h-1zM222 263h3v17h-3zM237 336h1v44h-1zM236 341h3v7h-3zM246 333h1v36h-1zM245 335h3v30h-3zM251 319h1v17h-1zM250 320h3v16h-3zM260 302h1v33h-1zM259 305h3v29h-3zM277 276h1v16h-1zM276 279h3v7h-3zM280 264h1v29h-1zM279 265h3v16h-3zM294 314h1v19h-1zM293 316h3v7h-3zM990 337h1v16h-1zM989 338h3v12h-3zM999 328h1v15h-1zM998 329h3v1h-3zM1002 302h1v21h-1zM1001 303h3v15h-3zM1016 315h1v13h-1zM1015 316h3v3h-3zM1021 330h1v12h-1zM1020 334h3v3h-3zM1047 334h1v22h-1zM1046 337h3v19h-3zM1070 336h1v14h-1zM1069 347h3v1h-3zM1073 314h1v22h-1zM1072 314h3v18h-3zM1076 315h1v14h-1zM1075 323h3v1h-3zM1084 328h1v20h-1zM1083 339h3v3h-3zM1087 330h1v35h-1zM1086 330h3v25h-3zM1090 307h1v35h-1zM1089 314h3v18h-3zM1098 323h1v27h-1zM1097 334h3v5h-3zM1101 329h1v22h-1zM1100 331h3v14h-3zM1104 304h1v15h-1zM1103 310h3v4h-3zM1107 280h1v26h-1zM1106 281h3v19h-3zM1124 330h1v30h-1zM1123 334h3v21h-3zM1127 337h1v10h-1zM1126 337h3v9h-3zM1198 329h1v33h-1zM1197 338h3v23h-3zM1378 325h1v27h-1zM1377 326h3v24h-3zM1381 329h1v21h-1zM1380 338h3v5h-3zM1389 326h1v22h-1zM1388 327h3v11h-3zM1392 290h1v39h-1zM1391 291h3v34h-3zM1395 274h1v29h-1zM1394 279h3v21h-3zM1461 325h1v50h-1zM1460 325h3v49h-3zM1469 316h1v33h-1zM1468 330h3v15h-3zM1472 313h1v17h-1zM1471 321h3v1h-3zM1475 290h1v14h-1zM1474 296h3v5h-3zM1478 315h1v22h-1zM1477 321h3v9h-3zM1483 295h1v23h-1zM1482 296h3v13h-3zM1486 267h1v27h-1zM1485 270h3v23h-3zM1506 289h1v28h-1zM1505 293h3v21h-3zM1512 268h1v18h-1zM1511 275h3v9h-3zM1518 296h1v17h-1zM1517 303h3v3h-3zM1523 263h1v18h-1zM1522 270h3v4h-3zM1529 265h1v23h-1zM1528 269h3v8h-3zM1535 237h1v21h-1zM1534 238h3v18h-3zM1541 262h1v22h-1zM1540 265h3v6h-3zM1546 260h1v16h-1zM1545 262h3v9h-3zM1549 207h1v27h-1zM1548 208h3v21h-3zM1558 188h1v23h-1zM1557 207h3v1h-3zM1560 203h1v15h-1zM1559 208h3v9h-3zM1572 204h1v20h-1zM1571 210h3v8h-3zM1578 215h1v16h-1zM1577 219h3v4h-3zM1580 228h1v22h-1zM1579 242h3v1h-3zM1589 239h1v47h-1zM1588 248h3v35h-3zM1595 276h1v28h-1zM1594 278h3v9h-3zM1603 302h1v43h-1zM1602 308h3v35h-3zM1609 312h1v23h-1zM1608 313h3v13h-3zM1615 272h1v15h-1zM1614 274h3v12h-3zM1620 285h1v19h-1zM1619 290h3v6h-3zM1623 263h1v21h-1zM1622 264h3v11h-3zM1629 260h1v13h-1zM1628 267h3v5h-3zM1635 225h1v16h-1zM1634 225h3v14h-3zM1637 215h1v13h-1zM1636 216h3v11h-3zM1657 207h1v19h-1zM1656 219h3v1h-3zM1666 225h1v26h-1zM1665 236h3v3h-3zM1672 233h1v27h-1zM1671 234h3v23h-3zM1675 229h1v14h-1zM1674 235h3v7h-3z" fill="#d51a3f"/><path d="M58 212h1v27h-1zM57 213h3v4h-3zM60 188h1v41h-1zM59 198h3v18h-3zM63 192h1v17h-1zM62 194h3v4h-3zM66 180h1v24h-1zM65 181h3v13h-3zM72 233h1v31h-1zM71 241h3v9h-3zM75 240h1v43h-1zM74 242h3v32h-3zM92 229h1v21h-1zM91 233h3v5h-3zM95 258h1v44h-1zM94 262h3v33h-3zM97 258h1v29h-1zM96 259h3v20h-3zM109 222h1v31h-1zM108 223h3v20h-3zM112 270h1v31h-1zM111 270h3v25h-3zM120 276h1v23h-1zM119 282h3v5h-3zM123 285h1v21h-1zM122 290h3v10h-3zM126 302h1v23h-1zM125 312h3v9h-3zM132 242h1v18h-1zM131 251h3v8h-3zM137 238h1v30h-1zM136 239h3v26h-3zM149 219h1v16h-1zM148 220h3v6h-3zM155 209h1v17h-1zM154 209h3v11h-3zM157 204h1v15h-1zM156 205h3v14h-3zM163 215h1v15h-1zM162 216h3v6h-3zM169 197h1v15h-1zM168 200h3v6h-3zM172 214h1v15h-1zM171 221h3v5h-3zM174 238h1v22h-1zM173 241h3v17h-3zM177 244h1v23h-1zM176 248h3v5h-3zM183 266h1v23h-1zM182 275h3v7h-3zM189 236h1v16h-1zM188 237h3v3h-3zM206 246h1v16h-1zM205 250h3v1h-3zM209 270h1v21h-1zM208 273h3v17h-3zM212 272h1v13h-1zM211 275h3v6h-3zM226 252h1v19h-1zM225 262h3v9h-3zM229 257h1v25h-1zM228 261h3v12h-3zM232 293h1v13h-1zM231 295h3v6h-3zM234 303h1v31h-1zM233 309h3v20h-3zM249 313h1v32h-1zM248 317h3v25h-3zM254 300h1v24h-1zM253 308h3v9h-3zM263 292h1v18h-1zM262 294h3v5h-3zM266 298h1v36h-1zM265 305h3v29h-3zM269 312h1v25h-1zM268 319h3v5h-3zM271 302h1v35h-1zM270 324h3v4h-3zM274 300h1v12h-1zM273 303h3v4h-3zM283 275h1v18h-1zM282 278h3v10h-3zM286 269h1v12h-1zM285 270h3v9h-3zM289 285h1v33h-1zM288 288h3v29h-3zM291 303h1v17h-1zM290 309h3v8h-3zM297 336h1v17h-1zM296 341h3v2h-3zM993 322h1v10h-1zM992 323h3v3h-3zM996 312h1v14h-1zM995 318h3v7h-3zM1004 295h1v19h-1zM1003 299h3v15h-3zM1007 299h1v10h-1zM1006 300h3v6h-3zM1010 301h1v26h-1zM1009 303h3v19h-3zM1013 309h1v28h-1zM1012 313h3v18h-3zM1019 321h1v17h-1zM1018 323h3v6h-3zM1024 338h1v19h-1zM1023 338h3v15h-3zM1050 332h1v13h-1zM1049 334h3v11h-3zM1053 337h1v21h-1zM1052 344h3v13h-3zM1079 315h1v24h-1zM1078 317h3v15h-3zM1081 318h1v22h-1zM1080 319h3v14h-3zM1093 298h1v23h-1zM1092 301h3v7h-3zM1096 305h1v51h-1zM1095 305h3v40h-3zM1110 286h1v42h-1zM1109 294h3v30h-3zM1113 316h1v31h-1zM1112 317h3v17h-3zM1116 328h1v12h-1zM1115 333h3v3h-3zM1130 324h1v24h-1zM1129 328h3v19h-3zM1384 320h1v20h-1zM1383 323h3v17h-3zM1387 329h1v15h-1zM1386 330h3v9h-3zM1398 300h1v33h-1zM1397 301h3v31h-3zM1401 336h1v20h-1zM1400 345h3v5h-3zM1464 326h1v46h-1zM1463 327h3v20h-3zM1481 300h1v27h-1zM1480 301h3v26h-3zM1489 275h1v27h-1zM1488 277h3v13h-3zM1492 278h1v23h-1zM1491 290h3v3h-3zM1495 277h1v16h-1zM1494 277h3v6h-3zM1498 258h1v26h-1zM1497 269h3v12h-3zM1501 287h1v27h-1zM1500 289h3v9h-3zM1503 289h1v34h-1zM1502 291h3v27h-3zM1509 297h1v18h-1zM1508 301h3v1h-3zM1515 266h1v31h-1zM1514 286h3v10h-3zM1521 287h1v23h-1zM1520 292h3v6h-3zM1526 273h1v16h-1zM1525 282h3v6h-3zM1532 252h1v20h-1zM1531 258h3v2h-3zM1538 249h1v34h-1zM1537 252h3v30h-3zM1543 276h1v25h-1zM1542 276h3v14h-3zM1552 202h1v20h-1zM1551 211h3v3h-3zM1555 201h1v27h-1zM1554 207h3v16h-3zM1563 210h1v9h-1zM1562 210h3v7h-3zM1566 206h1v16h-1zM1565 206h3v10h-3zM1569 196h1v20h-1zM1568 199h3v17h-3zM1575 227h1v23h-1zM1574 228h3v21h-3zM1583 232h1v12h-1zM1582 238h3v3h-3zM1586 219h1v32h-1zM1585 226h3v24h-3zM1592 243h1v30h-1zM1591 244h3v26h-3zM1598 297h1v35h-1zM1597 300h3v32h-3zM1600 315h1v37h-1zM1599 316h3v36h-3zM1606 330h1v50h-1zM1605 338h3v8h-3zM1612 302h1v20h-1zM1611 312h3v7h-3zM1618 290h1v24h-1zM1617 297h3v17h-3zM1626 245h1v19h-1zM1625 259h3v1h-3zM1632 249h1v26h-1zM1631 250h3v24h-3zM1640 213h1v33h-1zM1639 218h3v25h-3zM1643 219h1v13h-1zM1642 222h3v9h-3zM1646 222h1v21h-1zM1645 224h3v7h-3zM1649 224h1v12h-1zM1648 226h3v3h-3zM1652 193h1v22h-1zM1651 195h3v16h-3zM1655 210h1v24h-1zM1654 211h3v23h-3zM1660 225h1v13h-1zM1659 226h3v7h-3zM1663 226h1v22h-1zM1662 234h3v1h-3zM1669 256h1v14h-1zM1668 259h3v6h-3zM1677 235h1v39h-1zM1676 237h3v36h-3zM1680 281h1v26h-1zM1679 281h3v25h-3zM1683 283h1v24h-1zM1682 289h3v15h-3z" fill="#2355fe"/>
</g>
</g></g>
<g clip-path="url(#c0)"><g shape-rendering="crispEdges">
<rect x="51" y="171" width="63" height="65" fill="#ffcc99"/>
<path d="M51 2h1V815h-1zM102 2h1V815h-1zM162 2h1V815h-1zM222 2h1V815h-1zM282 2h1V815h-1zM339 2h1V815h-1zM399 2h1V815h-1zM462 2h1V815h-1zM519 2h1V815h-1zM573 2h1V815h-1zM635 2h1V815h-1zM695 2h1V815h-1zM752 2h1V815h-1zM809 2h1V815h-1zM872 2h1V815h-1zM929 2h1V815h-1zM986 2h1V815h-1zM1046 2h1V815h-1zM1106 2h1V815h-1zM1169 2h1V815h-1zM1223 2h1V815h-1zM1277 2h1V815h-1zM1340 2h1V815h-1zM1394 2h1V815h-1zM1457 2h1V815h-1zM1511 2h1V815h-1zM1568 2h1V815h-1zM1628 2h1V815h-1zM0 17H1721v1H0zM0 93H1721v1H0zM0 172H1721v1H0zM0 253H1721v1H0zM0 338H1721v1H0zM0 426H1721v1H0zM0 518H1721v1H0zM0 613H1721v1H0zM0 713H1721v1H0z" fill="#d2e1b4"/>
<path d="M52 224h1v28h-1zM51 247h3v2h-3zM55 211h1v33h-1zM54 213h3v29h-3zM69 199h1v27h-1zM68 214h3v8h-3zM78 227h1v18h-1zM77 229h3v9h-3zM80 196h1v49h-1zM79 217h3v19h-3zM83 214h1v30h-1zM82 215h3v27h-3zM86 214h1v45h-1zM85 215h3v34h-3zM106 214h1v19h-1zM105 214h3v15h-3z" fill="#e6296a"/><path d="M58 212h1v27h-1zM57 213h3v4h-3zM60 188h1v41h-1zM59 198h3v18h-3zM63 192h1v17h-1zM62 194h3v4h-3zM66 180h1v24h-1zM65 181h3v13h-3zM72 233h1v31h-1zM71 241h3v9h-3zM92 229h1v21h-1zM91 233h3v5h-3zM109 222h1v31h-1zM108 223h3v20h-3z" fill="#1066ab"/>
<g clip-path="url(#cb)"><rect x="51" y="171" width="63" height="65" fill="#ccccaa"/>
<path d="M51 2h1V815h-1zM102 2h1V815h-1zM162 2h1V815h-1zM222 2h1V815h-1zM282 2h1V815h-1zM339 2h1V815h-1zM399 2h1V815h-1zM462 2h1V815h-1zM519 2h1V815h-1zM573 2h1V815h-1zM635 2h1V815h-1zM695 2h1V815h-1zM752 2h1V815h-1zM809 2h1V815h-1zM872 2h1V815h-1zM929 2h1V815h-1zM986 2h1V815h-1zM1046 2h1V815h-1zM1106 2h1V815h-1zM1169 2h1V815h-1zM1223 2h1V815h-1zM1277 2h1V815h-1zM1340 2h1V815h-1zM1394 2h1V815h-1zM1457 2h1V815h-1zM1511 2h1V815h-1zM1568 2h1V815h-1zM1628 2h1V815h-1zM0 17H1721v1H0zM0 93H1721v1H0zM0 172H1721v1H0zM0 253H1721v1H0zM0 338H1721v1H0zM0 426H1721v1H0zM0 518H1721v1H0zM0 613H1721v1H0zM0 713H1721v1H0z" fill="#e1e187"/>
<path d="M52 224h1v28h-1zM51 247h3v2h-3zM55 211h1v33h-1zM54 213h3v29h-3zM69 199h1v27h-1zM68 214h3v8h-3zM78 227h1v18h-1zM77 229h3v9h-3zM80 196h1v49h-1zM79 217h3v19h-3zM83 214h1v30h-1zM82 215h3v27h-3zM86 214h1v45h-1zM85 215h3v34h-3zM106 214h1v19h-1zM105 214h3v15h-3z" fill="#d52959"/><path d="M58 212h1v27h-1zM57 213h3v4h-3zM60 188h1v41h-1zM59 198h3v18h-3zM63 192h1v17h-1zM62 194h3v4h-3zM66 180h1v24h-1zM65 181h3v13h-3zM72 233h1v31h-1zM71 241h3v9h-3zM92 229h1v21h-1zM91 233h3v5h-3zM109 222h1v31h-1zM108 223h3v20h-3z" fill="#236698"/>
</g>
</g></g>
<ellipse cx="82.0" cy="203.7" rx="29.5" ry="30.5" fill="none" stroke="#ffcc99" stroke-width="1" shape-rendering="crispEdges"/>
<g clip-path="url(#c1)"><g shape-rendering="crispEdges">
<rect x="139" y="178" width="62" height="58" fill="#ffcc99"/>
<path d="M51 2h1V815h-1zM102 2h1V815h-1zM162 2h1V815h-1zM222 2h1V815h-1zM282 2h1V815h-1zM339 2h1V815h-1zM399 2h1V815h-1zM462 2h1V815h-1zM519 2h1V815h-1zM573 2h1V815h-1zM635 2h1V815h-1zM695 2h1V815h-1zM752 2h1V815h-1zM809 2h1V815h-1zM872 2h1V815h-1zM929 2h1V815h-1zM986 2h1V815h-1zM1046 2h1V815h-1zM1106 2h1V815h-1zM1169 2h1V815h-1zM1223 2h1V815h-1zM1277 2h1V815h-1zM1340 2h1V815h-1zM1394 2h1V815h-1zM1457 2h1V815h-1zM1511 2h1V815h-1zM1568 2h1V815h-1zM1628 2h1V815h-1zM0 17H1721v1H0zM0 93H1721v1H0zM0 172H1721v1H0zM0 253H1721v1H0zM0 338H1721v1H0zM0 426H1721v1H0zM0 518H1721v1H0zM0 613H1721v1H0zM0 713H1721v1H0z" fill="#d2e1b4"/>
<path d="M143 220h1v16h-1zM142 225h3v6h-3zM146 228h1v22h-1zM145 229h3v11h-3zM152 223h1v25h-1zM151 229h3v7h-3zM160 200h1v19h-1zM159 207h3v12h-3zM166 205h1v30h-1zM165 206h3v23h-3zM197 234h1v16h-1zM196 238h3v10h-3zM200 233h1v19h-1zM199 238h3v1h-3z" fill="#e6296a"/><path d="M149 219h1v16h-1zM148 220h3v6h-3zM155 209h1v17h-1zM154 209h3v11h-3zM157 204h1v15h-1zM156 205h3v14h-3zM163 215h1v15h-1zM162 216h3v6h-3zM169 197h1v15h-1zM168 200h3v6h-3zM172 214h1v15h-1zM171 221h3v5h-3z" fill="#1066ab"/>
<g clip-path="url(#cb)"><rect x="139" y="178" width="62" height="58" fill="#ccccaa"/>
<path d="M51 2h1V815h-1zM102 2h1V815h-1zM162 2h1V815h-1zM222 2h1V815h-1zM282 2h1V815h-1zM339 2h1V815h-1zM399 2h1V815h-1zM462 2h1V815h-1zM519 2h1V815h-1zM573 2h1V815h-1zM635 2h1V815h-1zM695 2h1V815h-1zM752 2h1V815h-1zM809 2h1V815h-1zM872 2h1V815h-1zM929 2h1V815h-1zM986 2h1V815h-1zM1046 2h1V815h-1zM1106 2h1V815h-1zM1169 2h1V815h-1zM1223 2h1V815h-1zM1277 2h1V815h-1zM1340 2h1V815h-1zM1394 2h1V815h-1zM1457 2h1V815h-1zM1511 2h1V815h-1zM1568 2h1V815h-1zM1628 2h1V815h-1zM0 17H1721v1H0zM0 93H1721v1H0zM0 172H1721v1H0zM0 253H1721v1H0zM0 338H1721v1H0zM0 426H1721v1H0zM0 518H1721v1H0zM0 613H1721v1H0zM0 713H1721v1H0z" fill="#e1e187"/>
<path d="M143 220h1v16h-1zM142 225h3v6h-3zM146 228h1v22h-1zM145 229h3v11h-3zM152 223h1v25h-1zM151 229h3v7h-3zM160 200h1v19h-1zM159 207h3v12h-3zM166 205h1v30h-1zM165 206h3v23h-3zM197 234h1v16h-1zM196 238h3v10h-3zM200 233h1v19h-1zM199 238h3v1h-3z" fill="#d52959"/><path d="M149 219h1v16h-1zM148 220h3v6h-3zM155 209h1v17h-1zM154 209h3v11h-3zM157 204h1v15h-1zM156 205h3v14h-3zM163 215h1v15h-1zM162 216h3v6h-3zM169 197h1v15h-1zM168 200h3v6h-3zM172 214h1v15h-1zM171 221h3v5h-3z" fill="#236698"/>
</g>
</g></g>
<ellipse cx="169.9" cy="206.9" rx="29.3" ry="27.2" fill="none" stroke="#ffcc99" stroke-width="1" shape-rendering="crispEdges"/>
<g clip-path="url(#c2)"><g shape-rendering="crispEdges">
<rect x="476" y="686" width="108" height="102" fill="#ffcc99"/>
<path d="M51 2h1V815h-1zM102 2h1V815h-1zM162 2h1V815h-1zM222 2h1V815h-1zM282 2h1V815h-1zM339 2h1V815h-1zM399 2h1V815h-1zM462 2h1V815h-1zM519 2h1V815h-1zM573 2h1V815h-1zM635 2h1V815h-1zM695 2h1V815h-1zM752 2h1V815h-1zM809 2h1V815h-1zM872 2h1V815h-1zM929 2h1V815h-1zM986 2h1V815h-1zM1046 2h1V815h-1zM1106 2h1V815h-1zM1169 2h1V815h-1zM1223 2h1V815h-1zM1277 2h1V815h-1zM1340 2h1V815h-1zM1394 2h1V815h-1zM1457 2h1V815h-1zM1511 2h1V815h-1zM1568 2h1V815h-1zM1628 2h1V815h-1zM0 17H1721v1H0zM0 93H1721v1H0zM0 172H1721v1H0zM0 253H1721v1H0zM0 338H1721v1H0zM0 426H1721v1H0zM0 518H1721v1H0zM0 613H1721v1H0zM0 713H1721v1H0z" fill="#d2e1b4"/>
<path d="M520 700h1v34h-1zM519 704h3v21h-3zM528 667h1v32h-1zM527 680h3v15h-3zM534 708h1v25h-1zM533 711h3v12h-3zM540 692h1v27h-1zM539 693h3v25h-3zM542 691h1v46h-1zM541 692h3v35h-3zM545 661h1v32h-1zM544 663h3v1h-3zM554 689h1v20h-1zM553 700h3v3h-3z" fill="#e6296a"/><path d="M505 652h1v46h-1zM504 652h3v41h-3zM508 685h1v31h-1zM507 687h3v3h-3zM511 689h1v75h-1zM510 707h3v39h-3zM514 702h1v43h-1zM513 715h3v29h-3zM517 736h1v46h-1zM516 753h3v7h-3zM522 659h1v51h-1zM521 664h3v35h-3zM531 717h1v24h-1zM530 720h3v1h-3zM537 714h1v38h-1zM536 715h3v37h-3zM551 681h1v33h-1zM550 687h3v9h-3z" fill="#1066ab"/>
</g></g>
<ellipse cx="529.5" cy="737.0" rx="52.0" ry="49.2" fill="none" stroke="#ffcc99" stroke-width="1" shape-rendering="crispEdges"/>
<g clip-path="url(#c3)"><g shape-rendering="crispEdges">
<rect x="667" y="638" width="80" height="95" fill="#ffcc99"/>
<path d="M51 2h1V815h-1zM102 2h1V815h-1zM162 2h1V815h-1zM222 2h1V815h-1zM282 2h1V815h-1zM339 2h1V815h-1zM399 2h1V815h-1zM462 2h1V815h-1zM519 2h1V815h-1zM573 2h1V815h-1zM635 2h1V815h-1zM695 2h1V815h-1zM752 2h1V815h-1zM809 2h1V815h-1zM872 2h1V815h-1zM929 2h1V815h-1zM986 2h1V815h-1zM1046 2h1V815h-1zM1106 2h1V815h-1zM1169 2h1V815h-1zM1223 2h1V815h-1zM1277 2h1V815h-1zM1340 2h1V815h-1zM1394 2h1V815h-1zM1457 2h1V815h-1zM1511 2h1V815h-1zM1568 2h1V815h-1zM1628 2h1V815h-1zM0 17H1721v1H0zM0 93H1721v1H0zM0 172H1721v1H0zM0 253H1721v1H0zM0 338H1721v1H0zM0 426H1721v1H0zM0 518H1721v1H0zM0 613H1721v1H0zM0 713H1721v1H0z" fill="#d2e1b4"/>
<path d="M702 653h1v62h-1zM701 657h3v51h-3zM708 613h1v47h-1zM707 623h3v36h-3z" fill="#e6296a"/><path d="M694 640h1v38h-1zM693 647h3v30h-3zM696 662h1v29h-1zM695 663h3v25h-3zM699 681h1v53h-1zM698 682h3v13h-3zM705 632h1v29h-1zM704 645h3v4h-3z" fill="#1066ab"/>
</g></g>
<ellipse cx="706.5" cy="685.7" rx="38.0" ry="45.7" fill="none" stroke="#ffcc99" stroke-width="1" shape-rendering="crispEdges"/>
<g clip-path="url(#c4)"><g shape-rendering="crispEdges">
<rect x="1203" y="555" width="116" height="99" fill="#ffcc99"/>
<path d="M51 2h1V815h-1zM102 2h1V815h-1zM162 2h1V815h-1zM222 2h1V815h-1zM282 2h1V815h-1zM339 2h1V815h-1zM399 2h1V815h-1zM462 2h1V815h-1zM519 2h1V815h-1zM573 2h1V815h-1zM635 2h1V815h-1zM695 2h1V815h-1zM752 2h1V815h-1zM809 2h1V815h-1zM872 2h1V815h-1zM929 2h1V815h-1zM986 2h1V815h-1zM1046 2h1V815h-1zM1106 2h1V815h-1zM1169 2h1V815h-1zM1223 2h1V815h-1zM1277 2h1V815h-1zM1340 2h1V815h-1zM1394 2h1V815h-1zM1457 2h1V815h-1zM1511 2h1V815h-1zM1568 2h1V815h-1zM1628 2h1V815h-1zM0 17H1721v1H0zM0 93H1721v1H0zM0 172H1721v1H0zM0 253H1721v1H0zM0 338H1721v1H0zM0 426H1721v1H0zM0 518H1721v1H0zM0 613H1721v1H0zM0 713H1721v1H0z" fill="#d2e1b4"/>
<path d="M1261 532h1v56h-1zM1260 533h3v13h-3zM1272 596h1v26h-1zM1271 602h3v20h-3zM1278 601h1v25h-1zM1277 612h3v8h-3zM1281 563h1v19h-1zM1280 572h3v8h-3zM1284 546h1v18h-1zM1283 548h3v3h-3z" fill="#e6296a"/><path d="M1258 541h1v21h-1zM1257 546h3v10h-3zM1267 584h1v31h-1zM1266 588h3v27h-3zM1270 592h1v21h-1zM1269 602h3v10h-3zM1275 592h1v48h-1zM1274 595h3v31h-3z" fill="#1066ab"/>
</g></g>
<ellipse cx="1260.9" cy="604.4" rx="56.0" ry="47.5" fill="none" stroke="#ffcc99" stroke-width="1" shape-rendering="crispEdges"/>
<g clip-path="url(#c5)"><g shape-rendering="crispEdges">
<rect x="1386" y="429" width="99" height="85" fill="#ffcc99"/>
<path d="M51 2h1V815h-1zM102 2h1V815h-1zM162 2h1V815h-1zM222 2h1V815h-1zM282 2h1V815h-1zM339 2h1V815h-1zM399 2h1V815h-1zM462 2h1V815h-1zM519 2h1V815h-1zM573 2h1V815h-1zM635 2h1V815h-1zM695 2h1V815h-1zM752 2h1V815h-1zM809 2h1V815h-1zM872 2h1V815h-1zM929 2h1V815h-1zM986 2h1V815h-1zM1046 2h1V815h-1zM1106 2h1V815h-1zM1169 2h1V815h-1zM1223 2h1V815h-1zM1277 2h1V815h-1zM1340 2h1V815h-1zM1394 2h1V815h-1zM1457 2h1V815h-1zM1511 2h1V815h-1zM1568 2h1V815h-1zM1628 2h1V815h-1zM0 17H1721v1H0zM0 93H1721v1H0zM0 172H1721v1H0zM0 253H1721v1H0zM0 338H1721v1H0zM0 426H1721v1H0zM0 518H1721v1H0zM0 613H1721v1H0zM0 713H1721v1H0z" fill="#d2e1b4"/>
<path d="M1429 468h1v24h-1zM1428 481h3v1h-3zM1432 445h1v23h-1zM1431 451h3v5h-3zM1438 442h1v17h-1zM1437 445h3v1h-3zM1444 451h1v19h-1zM1443 452h3v12h-3zM1446 424h1v45h-1zM1445 446h3v19h-3zM1449 411h1v31h-1zM1448 426h3v8h-3zM1455 424h1v15h-1zM1454 429h3v5h-3zM1458 387h1v47h-1zM1457 388h3v46h-3z" fill="#e6296a"/><path d="M1424 404h1v31h-1zM1423 411h3v19h-3zM1426 423h1v63h-1zM1425 425h3v60h-3zM1435 435h1v24h-1zM1434 436h3v23h-3zM1441 448h1v21h-1zM1440 448h3v6h-3z" fill="#1066ab"/>
</g></g>
<ellipse cx="1435.4" cy="471.0" rx="47.5" ry="40.5" fill="none" stroke="#ffcc99" stroke-width="1" shape-rendering="crispEdges"/>
<g clip-path="url(#c6)"><g shape-rendering="crispEdges">
<rect x="1537" y="174" width="70" height="68" fill="#ffcc99"/>
<path d="M51 2h1V815h-1zM102 2h1V815h-1zM162 2h1V815h-1zM222 2h1V815h-1zM282 2h1V815h-1zM339 2h1V815h-1zM399 2h1V815h-1zM462 2h1V815h-1zM519 2h1V815h-1zM573 2h1V815h-1zM635 2h1V815h-1zM695 2h1V815h-1zM752 2h1V815h-1zM809 2h1V815h-1zM872 2h1V815h-1zM929 2h1V815h-1zM986 2h1V815h-1zM1046 2h1V815h-1zM1106 2h1V815h-1zM1169 2h1V815h-1zM1223 2h1V815h-1zM1277 2h1V815h-1zM1340 2h1V815h-1zM1394 2h1V815h-1zM1457 2h1V815h-1zM1511 2h1V815h-1zM1568 2h1V815h-1zM1628 2h1V815h-1zM0 17H1721v1H0zM0 93H1721v1H0zM0 172H1721v1H0zM0 253H1721v1H0zM0 338H1721v1H0zM0 426H1721v1H0zM0 518H1721v1H0zM0 613H1721v1H0zM0 713H1721v1H0z" fill="#d2e1b4"/>
<path d="M1549 207h1v27h-1zM1548 208h3v21h-3zM1558 188h1v23h-1zM1557 207h3v1h-3zM1560 203h1v15h-1zM1559 208h3v9h-3zM1572 204h1v20h-1zM1571 210h3v8h-3zM1578 215h1v16h-1zM1577 219h3v4h-3zM1580 228h1v22h-1zM1579 242h3v1h-3zM1589 239h1v47h-1zM1588 248h3v35h-3z" fill="#e6296a"/><path d="M1552 202h1v20h-1zM1551 211h3v3h-3zM1555 201h1v27h-1zM1554 207h3v16h-3zM1563 210h1v9h-1zM1562 210h3v7h-3zM1566 206h1v16h-1zM1565 206h3v10h-3zM1569 196h1v20h-1zM1568 199h3v17h-3zM1575 227h1v23h-1zM1574 228h3v21h-3zM1583 232h1v12h-1zM1582 238h3v3h-3zM1586 219h1v32h-1zM1585 226h3v24h-3z" fill="#1066ab"/>
<g clip-path="url(#cb)"><rect x="1537" y="174" width="70" height="68" fill="#ccccaa"/>
<path d="M51 2h1V815h-1zM102 2h1V815h-1zM162 2h1V815h-1zM222 2h1V815h-1zM282 2h1V815h-1zM339 2h1V815h-1zM399 2h1V815h-1zM462 2h1V815h-1zM519 2h1V815h-1zM573 2h1V815h-1zM635 2h1V815h-1zM695 2h1V815h-1zM752 2h1V815h-1zM809 2h1V815h-1zM872 2h1V815h-1zM929 2h1V815h-1zM986 2h1V815h-1zM1046 2h1V815h-1zM1106 2h1V815h-1zM1169 2h1V815h-1zM1223 2h1V815h-1zM1277 2h1V815h-1zM1340 2h1V815h-1zM1394 2h1V815h-1zM1457 2h1V815h-1zM1511 2h1V815h-1zM1568 2h1V815h-1zM1628 2h1V815h-1zM0 17H1721v1H0zM0 93H1721v1H0zM0 172H1721v1H0zM0 253H1721v1H0zM0 338H1721v1H0zM0 426H1721v1H0zM0 518H1721v1H0zM0 613H1721v1H0zM0 713H1721v1H0z" fill="#e1e187"/>
<path d="M1549 207h1v27h-1zM1548 208h3v21h-3zM1558 188h1v23h-1zM1557 207h3v1h-3zM1560 203h1v15h-1zM1559 208h3v9h-3zM1572 204h1v20h-1zM1571 210h3v8h-3zM1578 215h1v16h-1zM1577 219h3v4h-3zM1580 228h1v22h-1zM1579 242h3v1h-3zM1589 239h1v47h-1zM1588 248h3v35h-3z" fill="#d52959"/><path d="M1552 202h1v20h-1zM1551 211h3v3h-3zM1555 201h1v27h-1zM1554 207h3v16h-3zM1563 210h1v9h-1zM1562 210h3v7h-3zM1566 206h1v16h-1zM1565 206h3v10h-3zM1569 196h1v20h-1zM1568 199h3v17h-3zM1575 227h1v23h-1zM1574 228h3v21h-3zM1583 232h1v12h-1zM1582 238h3v3h-3zM1586 219h1v32h-1zM1585 226h3v24h-3z" fill="#236698"/>
</g>
</g></g>
<ellipse cx="1572.0" cy="208.2" rx="33.2" ry="32.2" fill="none" stroke="#ffcc99" stroke-width="1" shape-rendering="crispEdges"/>
<g clip-path="url(#c7)"><g shape-rendering="crispEdges">
<rect x="1631" y="181" width="49" height="61" fill="#ffcc99"/>
<path d="M51 2h1V815h-1zM102 2h1V815h-1zM162 2h1V815h-1zM222 2h1V815h-1zM282 2h1V815h-1zM339 2h1V815h-1zM399 2h1V815h-1zM462 2h1V815h-1zM519 2h1V815h-1zM573 2h1V815h-1zM635 2h1V815h-1zM695 2h1V815h-1zM752 2h1V815h-1zM809 2h1V815h-1zM872 2h1V815h-1zM929 2h1V815h-1zM986 2h1V815h-1zM1046 2h1V815h-1zM1106 2h1V815h-1zM1169 2h1V815h-1zM1223 2h1V815h-1zM1277 2h1V815h-1zM1340 2h1V815h-1zM1394 2h1V815h-1zM1457 2h1V815h-1zM1511 2h1V815h-1zM1568 2h1V815h-1zM1628 2h1V815h-1zM0 17H1721v1H0zM0 93H1721v1H0zM0 172H1721v1H0zM0 253H1721v1H0zM0 338H1721v1H0zM0 426H1721v1H0zM0 518H1721v1H0zM0 613H1721v1H0zM0 713H1721v1H0z" fill="#d2e1b4"/>
<path d="M1635 225h1v16h-1zM1634 225h3v14h-3zM1637 215h1v13h-1zM1636 216h3v11h-3zM1657 207h1v19h-1zM1656 219h3v1h-3zM1666 225h1v26h-1zM1665 236h3v3h-3zM1672 233h1v27h-1zM1671 234h3v23h-3zM1675 229h1v14h-1zM1674 235h3v7h-3z" fill="#e6296a"/><path d="M1640 213h1v33h-1zM1639 218h3v25h-3zM1643 219h1v13h-1zM1642 222h3v9h-3zM1646 222h1v21h-1zM1645 224h3v7h-3zM1649 224h1v12h-1zM1648 226h3v3h-3zM1652 193h1v22h-1zM1651 195h3v16h-3zM1655 210h1v24h-1zM1654 211h3v23h-3zM1660 225h1v13h-1zM1659 226h3v7h-3zM1663 226h1v22h-1zM1662 234h3v1h-3zM1677 235h1v39h-1zM1676 237h3v36h-3z" fill="#1066ab"/>
<g clip-path="url(#cb)"><rect x="1631" y="181" width="49" height="61" fill="#ccccaa"/>
<path d="M51 2h1V815h-1zM102 2h1V815h-1zM162 2h1V815h-1zM222 2h1V815h-1zM282 2h1V815h-1zM339 2h1V815h-1zM399 2h1V815h-1zM462 2h1V815h-1zM519 2h1V815h-1zM573 2h1V815h-1zM635 2h1V815h-1zM695 2h1V815h-1zM752 2h1V815h-1zM809 2h1V815h-1zM872 2h1V815h-1zM929 2h1V815h-1zM986 2h1V815h-1zM1046 2h1V815h-1zM1106 2h1V815h-1zM1169 2h1V815h-1zM1223 2h1V815h-1zM1277 2h1V815h-1zM1340 2h1V815h-1zM1394 2h1V815h-1zM1457 2h1V815h-1zM1511 2h1V815h-1zM1568 2h1V815h-1zM1628 2h1V815h-1zM0 17H1721v1H0zM0 93H1721v1H0zM0 172H1721v1H0zM0 253H1721v1H0zM0 338H1721v1H0zM0 426H1721v1H0zM0 518H1721v1H0zM0 613H1721v1H0zM0 713H1721v1H0z" fill="#e1e187"/>
<path d="M1635 225h1v16h-1zM1634 225h3v14h-3zM1637 215h1v13h-1zM1636 216h3v11h-3zM1657 207h1v19h-1zM1656 219h3v1h-3zM1666 225h1v26h-1zM1665 236h3v3h-3zM1672 233h1v27h-1zM1671 234h3v23h-3zM1675 229h1v14h-1zM1674 235h3v7h-3z" fill="#d52959"/><path d="M1640 213h1v33h-1zM1639 218h3v25h-3zM1643 219h1v13h-1zM1642 222h3v9h-3zM1646 222h1v21h-1zM1645 224h3v7h-3zM1649 224h1v12h-1zM1648 226h3v3h-3zM1652 193h1v22h-1zM1651 195h3v16h-3zM1655 210h1v24h-1zM1654 211h3v23h-3zM1660 225h1v13h-1zM1659 226h3v7h-3zM1663 226h1v22h-1zM1662 234h3v1h-3zM1677 235h1v39h-1zM1676 237h3v36h-3z" fill="#236698"/>
</g>
</g></g>
<ellipse cx="1656.0" cy="211.0" rx="22.8" ry="28.5" fill="none" stroke="#ffcc99" stroke-width="1" shape-rendering="crispEdges"/>
<g clip-path="url(#c8)"><g shape-rendering="crispEdges">
<rect x="1580" y="310" width="64" height="81" fill="#ffcc99"/>
<path d="M51 2h1V815h-1zM102 2h1V815h-1zM162 2h1V815h-1zM222 2h1V815h-1zM282 2h1V815h-1zM339 2h1V815h-1zM399 2h1V815h-1zM462 2h1V815h-1zM519 2h1V815h-1zM573 2h1V815h-1zM635 2h1V815h-1zM695 2h1V815h-1zM752 2h1V815h-1zM809 2h1V815h-1zM872 2h1V815h-1zM929 2h1V815h-1zM986 2h1V815h-1zM1046 2h1V815h-1zM1106 2h1V815h-1zM1169 2h1V815h-1zM1223 2h1V815h-1zM1277 2h1V815h-1zM1340 2h1V815h-1zM1394 2h1V815h-1zM1457 2h1V815h-1zM1511 2h1V815h-1zM1568 2h1V815h-1zM1628 2h1V815h-1zM0 17H1721v1H0zM0 93H1721v1H0zM0 172H1721v1H0zM0 253H1721v1H0zM0 338H1721v1H0zM0 426H1721v1H0zM0 518H1721v1H0zM0 613H1721v1H0zM0 713H1721v1H0z" fill="#d2e1b4"/>
<path d="M1603 302h1v43h-1zM1602 308h3v35h-3zM1609 312h1v23h-1zM1608 313h3v13h-3z" fill="#e6296a"/><path d="M1598 297h1v35h-1zM1597 300h3v32h-3zM1600 315h1v37h-1zM1599 316h3v36h-3zM1606 330h1v50h-1zM1605 338h3v8h-3zM1612 302h1v20h-1zM1611 312h3v7h-3zM1618 290h1v24h-1zM1617 297h3v17h-3z" fill="#1066ab"/>
<g clip-path="url(#cb)"><rect x="1580" y="310" width="64" height="81" fill="#ccccaa"/>
<path d="M51 2h1V815h-1zM102 2h1V815h-1zM162 2h1V815h-1zM222 2h1V815h-1zM282 2h1V815h-1zM339 2h1V815h-1zM399 2h1V815h-1zM462 2h1V815h-1zM519 2h1V815h-1zM573 2h1V815h-1zM635 2h1V815h-1zM695 2h1V815h-1zM752 2h1V815h-1zM809 2h1V815h-1zM872 2h1V815h-1zM929 2h1V815h-1zM986 2h1V815h-1zM1046 2h1V815h-1zM1106 2h1V815h-1zM1169 2h1V815h-1zM1223 2h1V815h-1zM1277 2h1V815h-1zM1340 2h1V815h-1zM1394 2h1V815h-1zM1457 2h1V815h-1zM1511 2h1V815h-1zM1568 2h1V815h-1zM1628 2h1V815h-1zM0 17H1721v1H0zM0 93H1721v1H0zM0 172H1721v1H0zM0 253H1721v1H0zM0 338H1721v1H0zM0 426H1721v1H0zM0 518H1721v1H0zM0 613H1721v1H0zM0 713H1721v1H0z" fill="#e1e187"/>
<path d="M1603 302h1v43h-1zM1602 308h3v35h-3zM1609 312h1v23h-1zM1608 313h3v13h-3z" fill="#d52959"/><path d="M1598 297h1v35h-1zM1597 300h3v32h-3zM1600 315h1v37h-1zM1599 316h3v36h-3zM1606 330h1v50h-1zM1605 338h3v8h-3zM1612 302h1v20h-1zM1611 312h3v7h-3zM1618 290h1v24h-1zM1617 297h3v17h-3z" fill="#236698"/>
</g>
</g></g>
<ellipse cx="1612.1" cy="350.3" rx="30.4" ry="38.6" fill="none" stroke="#ffcc99" stroke-width="1" shape-rendering="crispEdges"/>
<line x1="437.0" y1="788.5" x2="1522.0" y2="581.5" stroke="#ff6200" stroke-width="3.09" shape-rendering="crispEdges"/>
<line x1="1202.0" y1="694.0" x2="1659.0" y2="326.0" stroke="#ff6200" stroke-width="2.45" shape-rendering="crispEdges"/>
<g shape-rendering="crispEdges">
<rect x="1723" y="2" width="68" height="794" fill="#fff"/>
<rect x="0" y="797" width="1791" height="18" fill="#fff"/>
<path d="M51 796h1V815h-1zM102 796h1V815h-1zM162 796h1V815h-1zM222 796h1V815h-1zM282 796h1V815h-1zM339 796h1V815h-1zM399 796h1V815h-1zM462 796h1V815h-1zM519 796h1V815h-1zM573 796h1V815h-1zM635 796h1V815h-1zM695 796h1V815h-1zM752 796h1V815h-1zM809 796h1V815h-1zM872 796h1V815h-1zM929 796h1V815h-1zM986 796h1V815h-1zM1046 796h1V815h-1zM1106 796h1V815h-1zM1169 796h1V815h-1zM1223 796h1V815h-1zM1277 796h1V815h-1zM1340 796h1V815h-1zM1394 796h1V815h-1zM1457 796h1V815h-1zM1511 796h1V815h-1zM1568 796h1V815h-1zM1628 796h1V815h-1z" fill="#d2d2d2"/>
<rect x="0" y="1" width="1791" height="1" fill="#8c8c8c"/><rect x="0" y="0" width="1791" height="1" fill="#f4f4f4"/>
<rect x="1722" y="2" width="1" height="815" fill="#8a8a8a"/>
<rect x="0" y="796" width="1791" height="1" fill="#8a8a8a"/>
<path d="M1722 2h4v1h-4zM1722 17h7v1h-7zM1722 93h7v1h-7zM1722 78h3v1h-3zM1722 63h3v1h-3zM1722 48h3v1h-3zM1722 33h3v1h-3zM1722 172h7v1h-7zM1722 157h3v1h-3zM1722 142h3v1h-3zM1722 127h3v1h-3zM1722 112h3v1h-3zM1722 253h7v1h-7zM1722 238h3v1h-3zM1722 223h3v1h-3zM1722 208h3v1h-3zM1722 193h3v1h-3zM1722 338h7v1h-7zM1722 323h3v1h-3zM1722 308h3v1h-3zM1722 293h3v1h-3zM1722 278h3v1h-3zM1722 426h7v1h-7zM1722 411h3v1h-3zM1722 396h3v1h-3zM1722 381h3v1h-3zM1722 366h3v1h-3zM1722 518h7v1h-7zM1722 503h3v1h-3zM1722 488h3v1h-3zM1722 473h3v1h-3zM1722 458h3v1h-3zM1722 613h7v1h-7zM1722 598h3v1h-3zM1722 583h3v1h-3zM1722 568h3v1h-3zM1722 553h3v1h-3zM1722 713h7v1h-7zM1722 698h3v1h-3zM1722 683h3v1h-3zM1722 668h3v1h-3zM1722 653h3v1h-3z" fill="#8a8a8a"/>
</g>
<text x="1731.0" y="22.0" font-size="14" fill="#404040" textLength="49.5" lengthAdjust="spacingAndGlyphs">3,000.00</text>
<text x="1731.0" y="98.0" font-size="14" fill="#404040" textLength="49.5" lengthAdjust="spacingAndGlyphs">2,900.00</text>
<text x="1731.0" y="177.0" font-size="14" fill="#404040" textLength="49.5" lengthAdjust="spacingAndGlyphs">2,800.00</text>
<text x="1731.0" y="258.0" font-size="14" fill="#404040" textLength="49.5" lengthAdjust="spacingAndGlyphs">2,700.00</text>
<text x="1731.0" y="343.0" font-size="14" fill="#404040" textLength="49.5" lengthAdjust="spacingAndGlyphs">2,600.00</text>
<text x="1731.0" y="431.0" font-size="14" fill="#404040" textLength="49.5" lengthAdjust="spacingAndGlyphs">2,500.00</text>
<text x="1731.0" y="523.0" font-size="14" fill="#404040" textLength="49.5" lengthAdjust="spacingAndGlyphs">2,400.00</text>
<text x="1731.0" y="618.0" font-size="14" fill="#404040" textLength="49.5" lengthAdjust="spacingAndGlyphs">2,300.00</text>
<text x="1731.0" y="718.0" font-size="14" fill="#404040" textLength="49.5" lengthAdjust="spacingAndGlyphs">2,200.00</text>
<rect x="1723" y="3" width="47" height="24" fill="#fff"/>
<text x="1723.8" y="14.0" font-size="14" fill="#e61a0c" textLength="47.5" lengthAdjust="spacingAndGlyphs">LC:23.65</text>
<text x="1723.8" y="26.0" font-size="14" fill="#1055cd" textLength="52.8" lengthAdjust="spacingAndGlyphs">HC:-11.61</text>
<rect x="1727" y="297" width="64" height="13" fill="#e61a0c" shape-rendering="crispEdges"/>
<text x="1731.0" y="308.0" font-size="14" fill="#fff" textLength="43.5" lengthAdjust="spacingAndGlyphs">2,639.60</text>
<text x="1731.0" y="320.0" font-size="14" fill="#e61a0c" textLength="30.0" lengthAdjust="spacingAndGlyphs">0.16%</text>
<text x="1.0" y="810.5" font-size="14" fill="#404040" textLength="46.0" lengthAdjust="spacingAndGlyphs">2022/01</text>
<text x="53.0" y="810.5" font-size="14" fill="#404040" textLength="13.5" lengthAdjust="spacingAndGlyphs">02</text>
<text x="104.0" y="810.5" font-size="14" fill="#404040" textLength="13.5" lengthAdjust="spacingAndGlyphs">03</text>
<text x="164.0" y="810.5" font-size="14" fill="#404040" textLength="13.5" lengthAdjust="spacingAndGlyphs">04</text>
<text x="224.0" y="810.5" font-size="14" fill="#404040" textLength="13.5" lengthAdjust="spacingAndGlyphs">05</text>
<text x="284.0" y="810.5" font-size="14" fill="#404040" textLength="13.5" lengthAdjust="spacingAndGlyphs">06</text>
<text x="341.0" y="810.5" font-size="14" fill="#404040" textLength="13.5" lengthAdjust="spacingAndGlyphs">07</text>
<text x="401.0" y="810.5" font-size="14" fill="#404040" textLength="13.5" lengthAdjust="spacingAndGlyphs">08</text>
<text x="464.0" y="810.5" font-size="14" fill="#404040" textLength="13.5" lengthAdjust="spacingAndGlyphs">09</text>
<text x="521.0" y="810.5" font-size="14" fill="#404040" textLength="13.5" lengthAdjust="spacingAndGlyphs">10</text>
<text x="575.0" y="810.5" font-size="14" fill="#404040" textLength="13.5" lengthAdjust="spacingAndGlyphs">11</text>
<text x="637.0" y="810.5" font-size="14" fill="#404040" textLength="13.5" lengthAdjust="spacingAndGlyphs">12</text>
<text x="697.0" y="810.5" font-size="14" fill="#404040" textLength="46.5" lengthAdjust="spacingAndGlyphs">2023/01</text>
<text x="754.0" y="810.5" font-size="14" fill="#404040" textLength="13.5" lengthAdjust="spacingAndGlyphs">02</text>
<text x="811.0" y="810.5" font-size="14" fill="#404040" textLength="13.5" lengthAdjust="spacingAndGlyphs">03</text>
<text x="874.0" y="810.5" font-size="14" fill="#404040" textLength="13.5" lengthAdjust="spacingAndGlyphs">04</text>
<text x="931.0" y="810.5" font-size="14" fill="#404040" textLength="13.5" lengthAdjust="spacingAndGlyphs">05</text>
<text x="988.0" y="810.5" font-size="14" fill="#404040" textLength="13.5" lengthAdjust="spacingAndGlyphs">06</text>
<text x="1048.0" y="810.5" font-size="14" fill="#404040" textLength="13.5" lengthAdjust="spacingAndGlyphs">07</text>
<text x="1108.0" y="810.5" font-size="14" fill="#404040" textLength="13.5" lengthAdjust="spacingAndGlyphs">08</text>
<text x="1171.0" y="810.5" font-size="14" fill="#404040" textLength="13.5" lengthAdjust="spacingAndGlyphs">09</text>
<text x="1225.0" y="810.5" font-size="14" fill="#404040" textLength="13.5" lengthAdjust="spacingAndGlyphs">10</text>
<text x="1279.0" y="810.5" font-size="14" fill="#404040" textLength="13.5" lengthAdjust="spacingAndGlyphs">11</text>
<text x="1342.0" y="810.5" font-size="14" fill="#404040" textLength="13.5" lengthAdjust="spacingAndGlyphs">12</text>
<text x="1396.0" y="810.5" font-size="14" fill="#404040" textLength="46.5" lengthAdjust="spacingAndGlyphs">2024/01</text>
<text x="1459.0" y="810.5" font-size="14" fill="#404040" textLength="13.5" lengthAdjust="spacingAndGlyphs">02</text>
<text x="1513.0" y="810.5" font-size="14" fill="#404040" textLength="13.5" lengthAdjust="spacingAndGlyphs">03</text>
<text x="1570.0" y="810.5" font-size="14" fill="#404040" textLength="13.5" lengthAdjust="spacingAndGlyphs">04</text>
<text x="1630.0" y="810.5" font-size="14" fill="#404040" textLength="13.5" lengthAdjust="spacingAndGlyphs">05</text>
<text x="1731.0" y="810.5" font-size="14" fill="#404040" textLength="31.0" lengthAdjust="spacingAndGlyphs">05/31</text>
<rect x="3.5" y="7.5" width="4" height="5" fill="#c8c8c8" stroke="#8a8a8a" shape-rendering="crispEdges"/>
<rect x="10.5" y="3.5" width="75" height="14" fill="#ececec" stroke="#c4c4c4" shape-rendering="crispEdges"/>
<text fill="#333" y="14.8"><tspan x="14.8" font-size="12.5" textLength="21.6" lengthAdjust="spacingAndGlyphs">종합</tspan><tspan x="38.8" y="14.9" font-size="14.2" textLength="44.3" lengthAdjust="spacingAndGlyphs">(KOSPI)</tspan></text>
</svg></body></html>
